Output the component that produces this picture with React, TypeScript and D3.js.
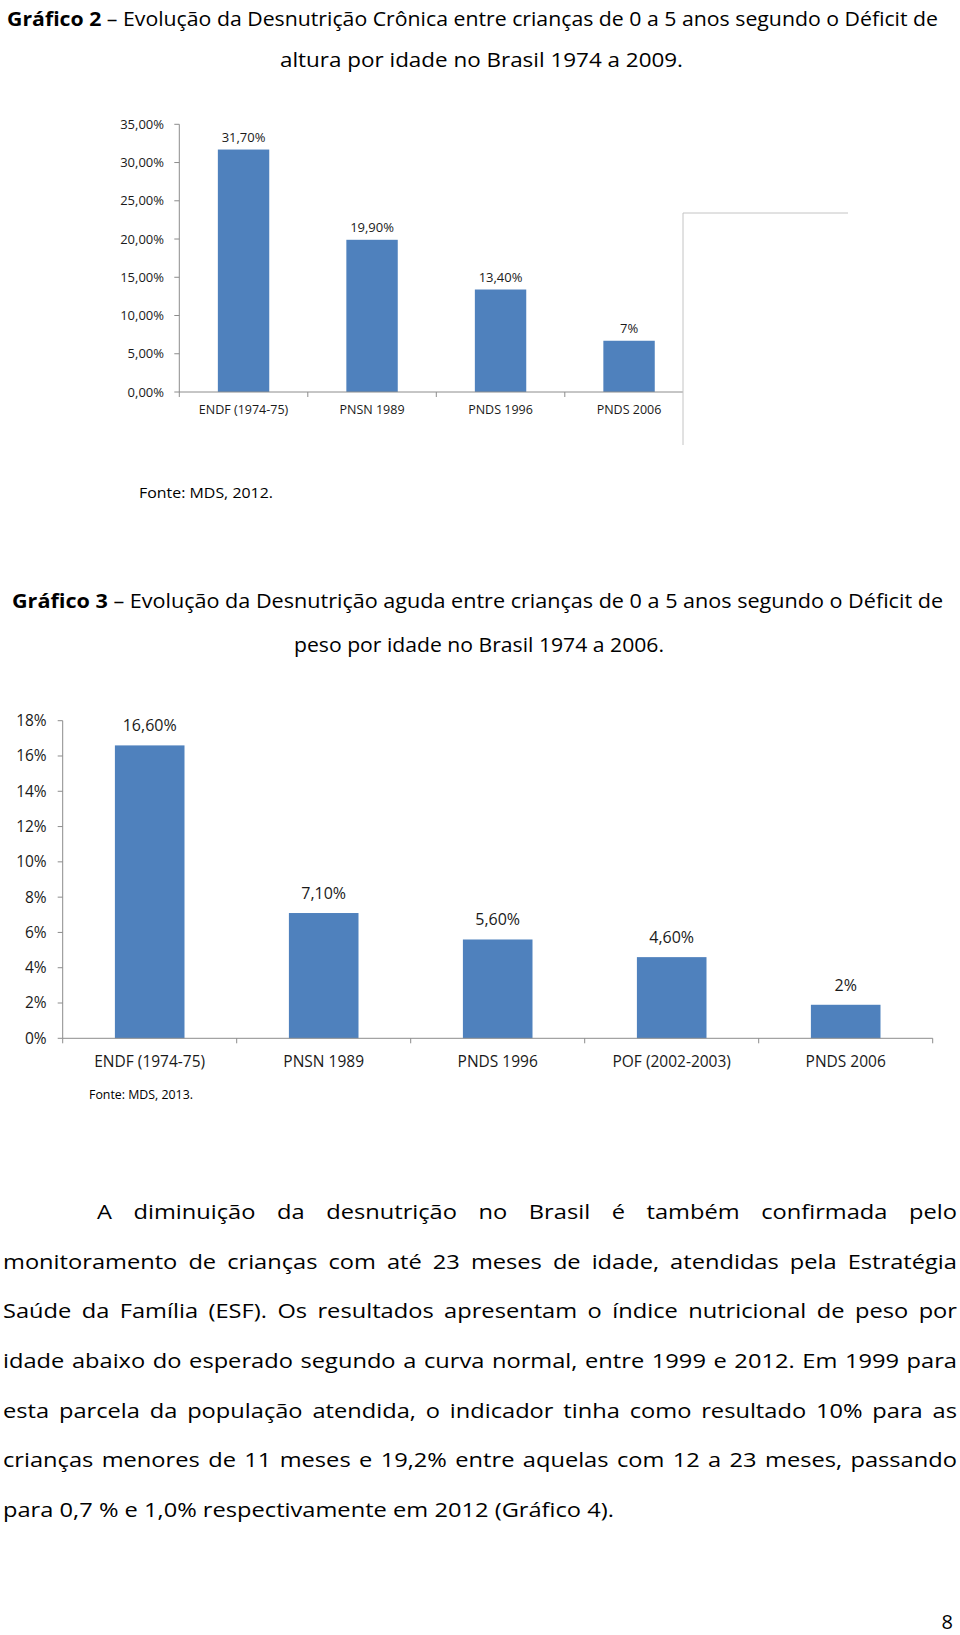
import * as d3 from "d3";
import { useMemo } from "react";

const FONT = "'Open Sans', Lato, sans-serif";
const BLUE = "#4f81bd";
const AXIS = "#8c8c8c";

// Gráfico 2 – déficit de altura por idade
const g2Categories = ["ENDF (1974-75)", "PNSN 1989", "PNDS 1996", "PNDS 2006"];
const g2Values = [31.7, 19.9, 13.4, 6.7];
const g2Labels = ["31,70%", "19,90%", "13,40%", "7%"];
const g2Ticks = [0, 5, 10, 15, 20, 25, 30, 35];
const g2TickLabels = ["0,00%", "5,00%", "10,00%", "15,00%", "20,00%", "25,00%", "30,00%", "35,00%"];

// Gráfico 3 – déficit de peso por idade
const g3Categories = ["ENDF (1974-75)", "PNSN 1989", "PNDS 1996", "POF (2002-2003)", "PNDS 2006"];
const g3Values = [16.6, 7.1, 5.6, 4.6, 1.9];
const g3Labels = ["16,60%", "7,10%", "5,60%", "4,60%", "2%"];
const g3Ticks = [0, 2, 4, 6, 8, 10, 12, 14, 16, 18];
const g3TickLabels = ["0%", "2%", "4%", "6%", "8%", "10%", "12%", "14%", "16%", "18%"];

const paragraph = [
    "A diminuição da desnutrição no Brasil é também confirmada pelo",
    "monitoramento de crianças com até 23 meses de idade, atendidas pela Estratégia",
    "Saúde da Família (ESF). Os resultados apresentam o índice nutricional de peso por",
    "idade abaixo do esperado segundo a curva normal, entre 1999 e 2012. Em 1999 para",
    "esta parcela da população atendida, o indicador tinha como resultado 10% para as",
    "crianças menores de 11 meses e 19,2% entre aquelas com 12 a 23 meses, passando",
    "para 0,7 % e 1,0% respectivamente em 2012 (Gráfico 4).",
];

type ChartProps = {
    categories: string[];
    values: number[];
    labels: string[];
    ticks: number[];
    tickLabels: string[];
    xRange: [number, number];
    yRange: [number, number];
    yMax: number;
    tickFont: number;
    valueFont: number;
    catFont: number;
    valueGap: number;
    catY: number;
    labelRight: number;
};

function BarChart(p: ChartProps) {
    const x = d3.scaleBand<string>().domain(p.categories).range(p.xRange).paddingInner(0.6).paddingOuter(0.3);
    const y = d3.scaleLinear().domain([0, p.yMax]).range(p.yRange);
    const step = x.step();
    const bounds = d3.range(p.categories.length + 1).map((i) => p.xRange[0] + i * step);
    return (
        <g fontFamily={FONT} fontWeight={400}>
            {p.categories.map((c, i) => (
                <rect key={c} x={x(c)} y={y(p.values[i])} width={x.bandwidth()} height={y(0) - y(p.values[i])} fill={BLUE} />
            ))}
            <line x1={p.xRange[0]} x2={p.xRange[0]} y1={y(0)} y2={y(p.yMax)} stroke={AXIS} />
            <line x1={p.xRange[0]} x2={p.xRange[1]} y1={y(0)} y2={y(0)} stroke={AXIS} />
            {p.ticks.map((t, i) => (
                <g key={t}>
                    <line x1={p.xRange[0] - 5} x2={p.xRange[0]} y1={y(t)} y2={y(t)} stroke={AXIS} />
                    <text x={p.labelRight} y={y(t)} dy="0.35em" textAnchor="end" fontSize={p.tickFont} fill="#1a1a1a">
                        {p.tickLabels[i]}
                    </text>
                </g>
            ))}
            {bounds.map((b) => (
                <line key={b} x1={b} x2={b} y1={y(0)} y2={y(0) + 5} stroke={AXIS} />
            ))}
            {p.categories.map((c, i) => (
                <g key={c + "l"}>
                    <text
                        x={(x(c) ?? 0) + x.bandwidth() / 2}
                        y={y(p.values[i]) - p.valueGap}
                        textAnchor="middle"
                        fontSize={p.valueFont}
                        fill="#1a1a1a"
                    >
                        {p.labels[i]}
                    </text>
                    <text x={(x(c) ?? 0) + x.bandwidth() / 2} y={p.catY} dy="0.35em" textAnchor="middle" fontSize={p.catFont} fill="#1a1a1a">
                        {c}
                    </text>
                </g>
            ))}
        </g>
    );
}

function Paragraph() {
    const fs = 20;
    const left = 3;
    const right = 957;
    const lines = useMemo(() => {
        const ctx = document.createElement("canvas").getContext("2d")!;
        ctx.font = `400 ${fs}px 'Open Sans'`;
        const last = paragraph[paragraph.length - 1];
        const s = (614 - left) / ctx.measureText(last).width;
        return paragraph.map((line, li) => {
            const words = line.split(" ");
            const widths = words.map((w) => ctx.measureText(w).width);
            const start = li === 0 ? 97 : left;
            const avail = (right - start) / s;
            const sum = d3.sum(widths);
            const justify = li < paragraph.length - 1;
            const gap = justify ? (avail - sum) / (words.length - 1) : ctx.measureText(" ").width;
            let cx = 0;
            const pos = widths.map((w) => {
                const p = cx;
                cx += w + gap;
                return p;
            });
            return { words, pos, start, s, y: 1212 + li * 49.67 + 7 };
        });
    }, []);
    return (
        <g fontFamily={FONT} fontSize={fs} fontWeight={400} fill="#000">
            {lines.map((l, i) => (
                <g key={i} transform={`translate(${l.start},${l.y}) scale(${l.s},1)`}>
                    {l.words.map((w, j) => (
                        <text key={j} x={l.pos[j]}>
                            {w}
                        </text>
                    ))}
                </g>
            ))}
        </g>
    );
}

export default function App() {
    return (
        <svg width={960} height={1635} style={{ position: "absolute", left: 0, top: 0, display: "block", background: "#fff" }}>
            <rect width={960} height={1635} fill="#fff" />
            <g fontFamily={FONT} fontSize={20} fontWeight={400} fill="#000">
                <text x={7} y={19 + 7} textLength={931} lengthAdjust="spacingAndGlyphs">
                    <tspan fontWeight="bold">Gráfico 2</tspan> – Evolução da Desnutrição Crônica entre crianças de 0 a 5 anos segundo o Déficit de
                </text>
                <text x={280} y={60 + 7} textLength={403} lengthAdjust="spacingAndGlyphs">
                    altura por idade no Brasil 1974 a 2009.
                </text>
                <text x={12} y={601 + 7} textLength={931} lengthAdjust="spacingAndGlyphs">
                    <tspan fontWeight="bold">Gráfico 3</tspan> – Evolução da Desnutrição aguda entre crianças de 0 a 5 anos segundo o Déficit de
                </text>
                <text x={294} y={645 + 7} textLength={370} lengthAdjust="spacingAndGlyphs">
                    peso por idade no Brasil 1974 a 2006.
                </text>
                <text x={139} y={493 + 5} fontSize={15} textLength={134} lengthAdjust="spacingAndGlyphs">
                    Fonte: MDS, 2012.
                </text>
                <text x={89} y={1095 + 4} fontSize={12.5} textLength={104} lengthAdjust="spacingAndGlyphs">
                    Fonte: MDS, 2013.
                </text>
                <text x={953} y={1622 + 7} textAnchor="end">
                    8
                </text>
            </g>

            <BarChart
                categories={g2Categories}
                values={g2Values}
                labels={g2Labels}
                ticks={g2Ticks}
                tickLabels={g2TickLabels}
                xRange={[179.3, 693.3]}
                yRange={[392, 124.3]}
                yMax={35}
                tickFont={13}
                valueFont={13}
                catFont={12.5}
                valueGap={8}
                catY={410}
                labelRight={164}
            />
            {/* overlapping empty frame on the right of Gráfico 2 */}
            <rect x={683} y={213} width={165} height={232} fill="#fff" />
            <path d="M683,445V213H848" fill="none" stroke="#c4c4c4" />

            <BarChart
                categories={g3Categories}
                values={g3Values}
                labels={g3Labels}
                ticks={g3Ticks}
                tickFont={15.5}
                tickLabels={g3TickLabels}
                xRange={[62.7, 932.7]}
                yRange={[1038.3, 720.7]}
                yMax={18}
                valueFont={16}
                catFont={15.5}
                valueGap={14}
                catY={1061.7}
                labelRight={46.7}
            />

            <Paragraph />
        </svg>
    );
}
